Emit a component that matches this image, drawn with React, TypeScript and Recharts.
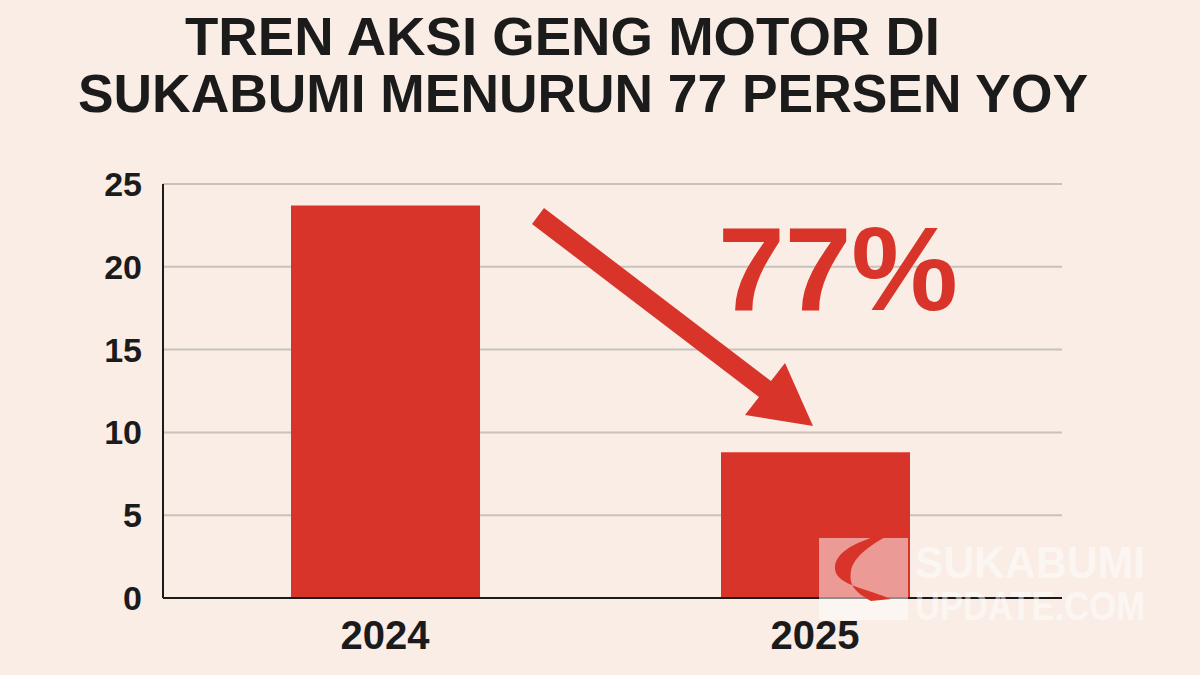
import { BarChart, Bar, XAxis, YAxis, CartesianGrid } from "recharts";

const years = ["2024", "2025"];
const incidents = [23.7, 8.8];
const yTicks = [0, 5, 10, 15, 20, 25];
const titleLines = ["TREN AKSI GENG MOTOR DI", "SUKABUMI MENURUN 77 PERSEN YOY"];
const dropLabel = "77%";

const data = years.map((year, i) => ({ year, value: incidents[i] }));

const RED = "#d9342a";
const BG = "#f9ede6";
const INK = "#1b1b1b";
const FONT = "'Liberation Sans', Arial, sans-serif";

const Overlay = () => (
  <svg
    width={1200}
    height={675}
    style={{ position: "absolute", left: 0, top: 0, pointerEvents: "none" }}
  >
    <text
      x={185}
      y={55}
      fontFamily={FONT}
      fontWeight={700}
      fontSize={54}
      fill={INK}
      textLength={755}
      lengthAdjust="spacingAndGlyphs"
    >
      {titleLines[0]}
    </text>
    <text
      x={78}
      y={112}
      fontFamily={FONT}
      fontWeight={700}
      fontSize={54}
      fill={INK}
      textLength={1010}
      lengthAdjust="spacingAndGlyphs"
    >
      {titleLines[1]}
    </text>
    {/* down arrow */}
    <polygon
      points="544,208 771,381 785,363 813,426 745,415 759,397 532,224"
      fill={RED}
    />
    <text
      x={718}
      y={310}
      fontFamily={FONT}
      fontWeight={700}
      fontSize={118}
      fill={RED}
      textLength={240}
      lengthAdjust="spacingAndGlyphs"
    >
      {dropLabel}
    </text>
    {/* watermark */}
    <rect x={819} y={538} width={89} height={82} fill="#ffffff" opacity={0.5} />
    <path
      d="M897,531 C856,540 834,552 835,569 C836,585 868,589 891,599 L871,601 C853,591 849,584 851,571 C853,557 872,543 897,531 Z"
      fill={RED}
    />
    <g fill="#ffffff" opacity={0.5} fontFamily={FONT} fontWeight={700}>
      <text x={915} y={578} fontSize={44} textLength={230} lengthAdjust="spacingAndGlyphs">
        SUKABUMI
      </text>
      <text x={915} y={620} fontSize={40} textLength={230} lengthAdjust="spacingAndGlyphs">
        UPDATE.COM
      </text>
    </g>
  </svg>
);

export default function App() {
  return (
    <div
      style={{
        position: "absolute",
        left: 0,
        top: 0,
        width: 1200,
        height: 675,
        background: BG,
        overflow: "hidden",
      }}
    >
      <BarChart
        width={1200}
        height={675}
        data={data}
        margin={{ top: 184, right: 138, bottom: 17, left: 0 }}
        barSize={189}
      >
        <CartesianGrid vertical={false} stroke="#c9c1bb" strokeWidth={2} />
        <XAxis
          dataKey="year"
          height={60}
          padding={{ left: 7, right: 32 }}
          axisLine={{ stroke: INK, strokeWidth: 2 }}
          tickLine={false}
          tickSize={0}
          tickMargin={23}
          tick={{ fill: INK, fontSize: 40, fontWeight: 700, fontFamily: FONT }}
        />
        <YAxis
          width={163}
          domain={[0, 25]}
          ticks={yTicks}
          interval={0}
          axisLine={{ stroke: INK, strokeWidth: 2 }}
          tickLine={false}
          tickSize={0}
          tickMargin={21}
          tick={{ fill: INK, fontSize: 34, fontWeight: 700, fontFamily: FONT }}
        />
        <Bar dataKey="value" fill={RED} isAnimationActive={false} />
      </BarChart>
      <Overlay />
    </div>
  );
}
